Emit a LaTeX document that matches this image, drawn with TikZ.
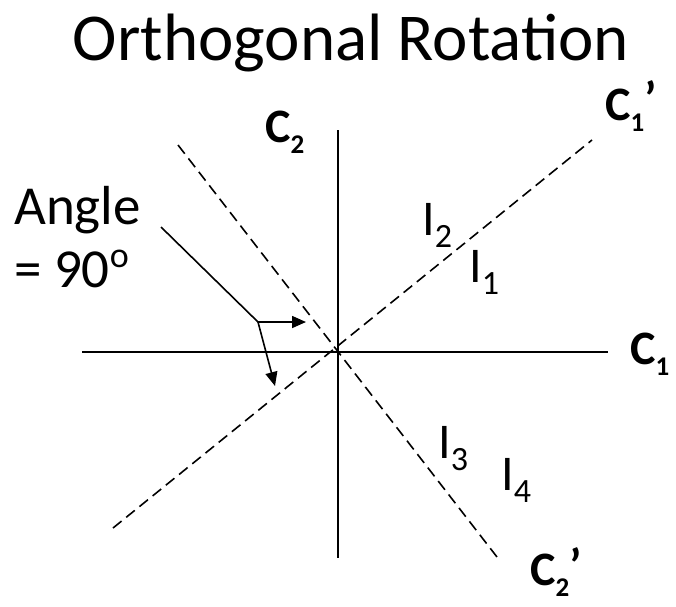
\documentclass[tikz,border=0pt]{standalone}
\usepackage{fontspec}
\setmainfont{Carlito}
\usetikzlibrary{arrows.meta}
\newcommand{\isub}[1]{\raisebox{-12pt}{\fontsize{34}{34}\selectfont #1}}
\newcommand{\csub}[1]{\raisebox{-11pt}{\fontsize{27}{27}\selectfont\bfseries #1}}
\tikzset{
  lbl/.style={inner sep=0pt, anchor=base west, font=\fontsize{50}{60}\selectfont},
  albl/.style={inner sep=0pt, anchor=base west, font=\fontsize{55}{60}\selectfont},
  clbl/.style={inner sep=0pt, anchor=base west, font=\fontsize{48}{56}\selectfont\bfseries},
  axis/.style={line width=2pt},
  rot/.style={line width=1.6pt, dash pattern=on 11pt off 6pt},
  ptr/.style={line width=1.6pt},
  arr/.style={line width=1.6pt, -{Triangle[length=14pt,width=12pt]}}
}
\begin{document}
\begin{tikzpicture}[x=1pt,y=-1pt]
\useasboundingbox (0,0) rectangle (676,606);
% title
\node[inner sep=0pt, anchor=base, font=\fontsize{67}{80}\selectfont] (title) at (351,60) {Orthogonal Rotation};
% axes
\coordinate (o) at (338,350);
\coordinate (hL) at (82,352);
\coordinate (hR) at (608,352);
\coordinate (vT) at (338,130);
\coordinate (vB) at (338,558);
\draw[axis] (hL) -- (hR);
\draw[axis] (vT) -- (vB);
% rotated axes
\coordinate (aLL) at (113,528);
\coordinate (aUR) at (592,140);
\coordinate (bUL) at (178,145);
\coordinate (bLR) at (497,557);
\draw[rot] (aLL) -- (aUR);
\draw[rot] (bUL) -- (bLR);
% angle pointer
\coordinate (pS) at (161,227);
\coordinate (pC) at (258,322);
\coordinate (pR) at (306,322);
\coordinate (pD) at (275,386);
\draw[ptr] (pS) -- (pC);
\draw[arr] (pC) -- (pR);
\draw[arr] (pC) -- (pD);
% labels
\node[albl] (angle) at (14,224) {Angle};
\node[albl] (ninety) at (14,287) {= 90\raisebox{20pt}{\fontsize{36}{36}\selectfont o}};
\node[clbl] (c2) at (265,142) {C\csub{2}};
\node[clbl] (c1) at (630,364) {C\csub{1}};
\node[clbl] (c1p) at (605,120) {C\csub{1}\raisebox{5pt}{’}};
\node[clbl] (c2p) at (530,585) {C\csub{2}\raisebox{3pt}{’}};
\node[lbl] (i2) at (422,235) {I\isub{2}};
\node[lbl] (i1) at (469,282) {I\isub{1}};
\node[lbl] (i3) at (438,458) {I\isub{3}};
\node[lbl] (i4) at (501,490) {I\isub{4}};
\end{tikzpicture}
\end{document}
